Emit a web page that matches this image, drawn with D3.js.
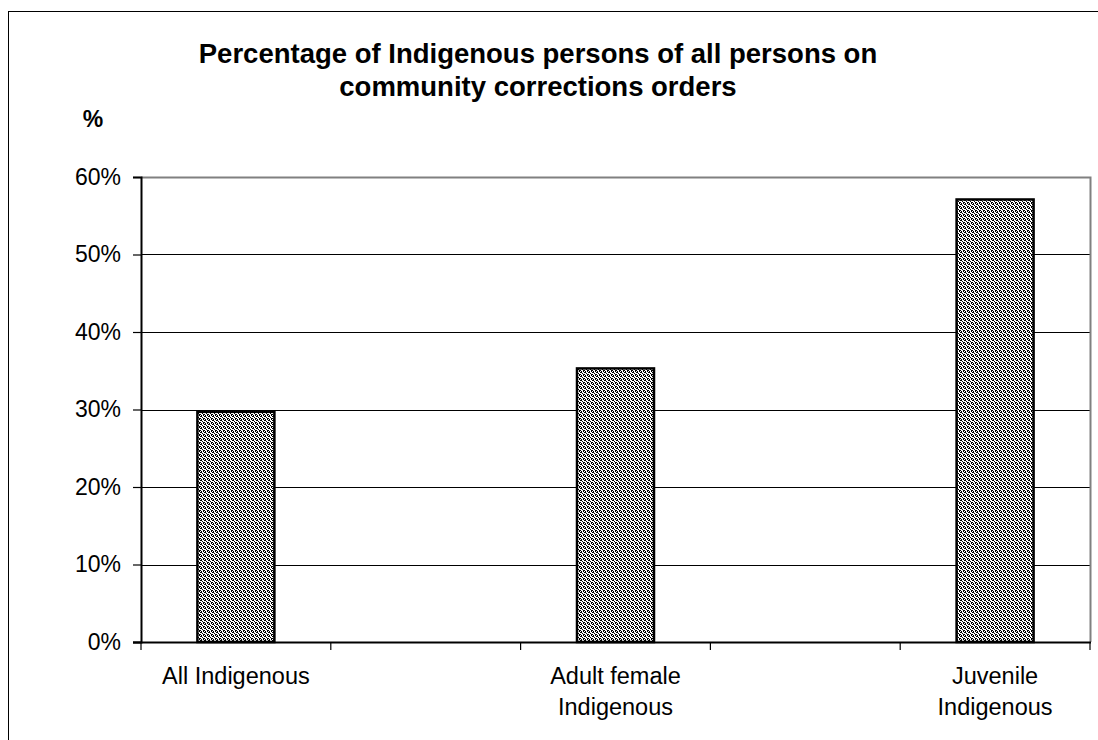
<!DOCTYPE html>
<html>
<head>
<meta charset="utf-8">
<script src="https://cdn.jsdelivr.net/npm/d3@7"></script>
<style>
  html, body { margin: 0; padding: 0; background: #fff; }
  svg { display: block; font-family: "Liberation Sans", Arial, sans-serif; }
</style>
</head>
<body>
<svg id="chart" width="1098" height="740"></svg>
<script>
// Categories (blank slots keep the spacing between bars)
const categories = ["All Indigenous", "", "Adult female Indigenous", "", "Juvenile Indigenous"];
const categoryLines = [["All Indigenous"], [], ["Adult female", "Indigenous"], [], ["Juvenile", "Indigenous"]];
const values = [29.7, null, 35.3, null, 57.1];
const yTicks = [0, 10, 20, 30, 40, 50, 60];
const titleLines = ["Percentage of Indigenous persons of all persons on", "community corrections orders"];

const svg = d3.select("#chart");
const W = 1098, H = 740;
const plot = { left: 141, right: 1090, top: 177, bottom: 642 };

// Outer chart frame
svg.append("rect")
  .attr("x", 8.5).attr("y", 11.5)
  .attr("width", W + 10).attr("height", H + 10)
  .attr("fill", "#fff").attr("stroke", "#000").attr("stroke-width", 1);

// Dithered fill for the bars
const defs = svg.append("defs");
const pat = defs.append("pattern")
  .attr("id", "dots").attr("patternUnits", "userSpaceOnUse")
  .attr("width", 4).attr("height", 4);
pat.append("rect").attr("width", 4).attr("height", 4).attr("fill", "#fff");
[[0,0],[1,0],[2,1],[3,2],[0,2],[1,3],[3,3]].forEach(([px, py]) => {
  pat.append("rect").attr("x", px).attr("y", py).attr("width", 1).attr("height", 1).attr("fill", "#000");
});

const x = d3.scaleBand().domain(d3.range(categories.length))
  .range([plot.left, plot.right]).paddingInner(0).paddingOuter(0);
const y = d3.scaleLinear().domain([0, 60]).range([plot.bottom, plot.top]);

// Gridlines
svg.append("g").selectAll("line")
  .data(yTicks.filter(t => t > 0 && t < 60))
  .join("line")
  .attr("x1", plot.left).attr("x2", plot.right)
  .attr("y1", d => Math.round(y(d)) + 0.5).attr("y2", d => Math.round(y(d)) + 0.5)
  .attr("stroke", "#000").attr("stroke-width", 1);

// Plot area frame (top and right)
svg.append("path")
  .attr("d", `M${plot.left},${plot.top + 0.5}H${plot.right + 0.5}V${plot.bottom}`)
  .attr("fill", "none").attr("stroke", "#808080").attr("stroke-width", 2);

// Bars
const bw = 77;
svg.append("g").selectAll("rect")
  .data(values.map((v, i) => ({ v, i })).filter(d => d.v != null))
  .join("rect")
  .attr("x", d => x(d.i) + x.bandwidth() / 2 - bw / 2)
  .attr("y", d => y(d.v))
  .attr("width", bw)
  .attr("height", d => y(0) - y(d.v))
  .attr("fill", "url(#dots)")
  .attr("stroke", "#000").attr("stroke-width", 2.5);

// Y axis
const yAxis = svg.append("g").attr("transform", `translate(${plot.left},0)`)
  .call(d3.axisLeft(y).tickValues(yTicks).tickSize(8).tickPadding(12).tickFormat(d => d + "%"));
yAxis.select(".domain").attr("stroke", "#000").attr("stroke-width", 2);
yAxis.selectAll(".tick line").attr("stroke", "#000").attr("stroke-width", 1.2);
yAxis.selectAll(".tick text").attr("font-size", 23).attr("fill", "#000")
  .attr("font-family", "Liberation Sans, Arial, sans-serif");

// X axis: ticks at band boundaries
const xb = svg.append("g");
xb.append("line").attr("x1", plot.left - 8).attr("x2", plot.right + 1)
  .attr("y1", plot.bottom + 0.5).attr("y2", plot.bottom + 0.5)
  .attr("stroke", "#000").attr("stroke-width", 2);
xb.selectAll("line.tk")
  .data(d3.range(categories.length + 1))
  .join("line").attr("class", "tk")
  .attr("x1", i => i < categories.length ? x(i) : plot.right)
  .attr("x2", i => i < categories.length ? x(i) : plot.right)
  .attr("y1", plot.bottom).attr("y2", plot.bottom + 8)
  .attr("stroke", "#000").attr("stroke-width", 1.2);

// Category labels
categoryLines.forEach((lines, i) => {
  lines.forEach((ln, k) => {
    svg.append("text")
      .attr("x", x(i) + x.bandwidth() / 2)
      .attr("y", 684 + k * 31)
      .attr("text-anchor", "middle")
      .attr("font-size", 23.5).attr("fill", "#000")
      .text(ln);
  });
});

// Title
titleLines.forEach((ln, k) => {
  svg.append("text")
    .attr("x", 538).attr("y", 63 + k * 33)
    .attr("text-anchor", "middle")
    .attr("font-size", 27.5).attr("font-weight", "bold").attr("fill", "#000")
    .text(ln);
});

// Axis unit
svg.append("text")
  .attr("x", 93).attr("y", 127)
  .attr("text-anchor", "middle")
  .attr("font-size", 23).attr("font-weight", "bold").attr("fill", "#000")
  .text("%");
</script>
</body>
</html>
